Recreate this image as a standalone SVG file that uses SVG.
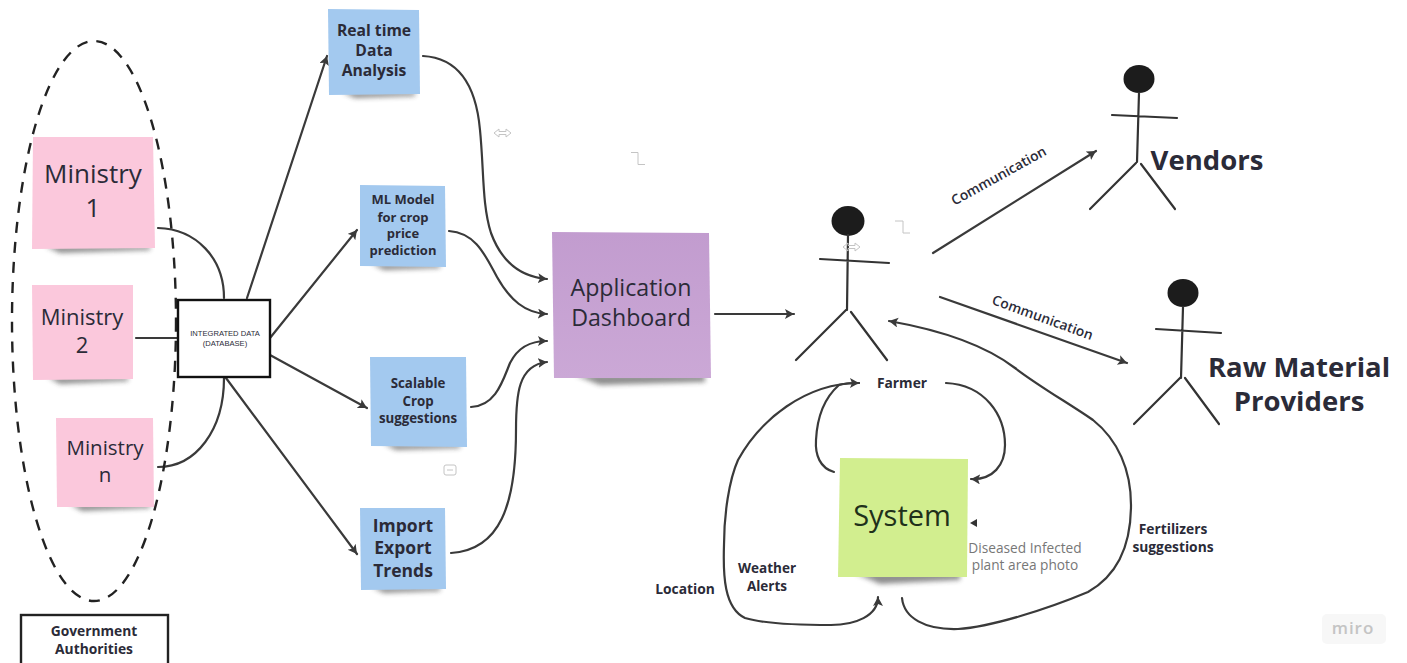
<svg xmlns="http://www.w3.org/2000/svg" width="1407" height="663" viewBox="0 0 1407 663">
<style>
text{font-family:"Open Sans","Noto Sans","Liberation Sans",sans-serif;fill:#2b2b38;text-anchor:middle}
.b{font-weight:700}
.c{fill:none;stroke:#3a3a3a;stroke-width:2.2;stroke-linecap:round;marker-end:url(#a)}
.n{fill:none;stroke:#3a3a3a;stroke-width:2.2;stroke-linecap:round}
.s{fill:none;stroke:#333;stroke-width:2.2;stroke-linecap:round}
.h{fill:#1c1c1c}
.sh{fill:#333;opacity:.55;filter:url(#blur)}
.i{fill:none;stroke:#c4c4c4;stroke-width:1}
.pink{fill:#fbc8dc}.blue{fill:#a3c9ef}
</style>
<defs>
<filter id="blur" x="-20%" y="-200%" width="140%" height="500%"><feGaussianBlur stdDeviation="2.5"/></filter>
<linearGradient id="pg" x1="0" y1="0" x2="0" y2="1"><stop offset="0" stop-color="#c29ccf"/><stop offset="1" stop-color="#cba8d6"/></linearGradient>
<marker id="a" markerUnits="userSpaceOnUse" markerWidth="12" markerHeight="12" refX="9" refY="5" orient="auto"><path d="M0 0L9 5L0 10L2 5Z" fill="#3a3a3a"/></marker>
</defs>
<rect width="1407" height="663" fill="#fff"/>

<g id="connectors">
<path class="n" d="M158 228C196 229 224 258 224 298"/>
<path class="n" d="M136 338H178"/>
<path class="n" d="M158 467C196 467 224 430 224 378"/>
<path class="c" d="M247 298L327 56"/>
<path class="c" d="M270 338L357 230"/>
<path class="c" d="M270 355L367 408"/>
<path class="c" d="M226 378L357 554"/>
<path class="c" d="M423 56C458 58 476 85 480 130C484 170 482 205 491 233C502 263 522 277 547 279"/>
<path class="c" d="M449 231C476 233 485 255 497 277C510 300 525 313 547 314"/>
<path class="c" d="M471 407C496 406 503 380 510 363C518 347 530 341 547 341"/>
<path class="c" d="M451 553C500 550 516 505 516 430C516 395 518 365 547 362"/>
<path class="c" d="M715 314H794"/>
<path class="c" d="M933 253L1096 151"/>
<path class="c" d="M940 297L1127 363"/>
<path class="c" d="M902 598C904 618 925 630 958 629C990 627 1045 610 1088 592C1118 575 1131 545 1131 505C1131 470 1118 440 1093 420C1070 404 1040 387 1015 368C985 345 940 330 889 321"/>
<path class="c" d="M834 472C820 468 815 455 816 440C817 420 822 400 839 385C845 383 852 383 859 383"/>
<path class="c" d="M859 383C805 383 760 420 738 460C729 480 724 515 724 545C723 575 724 608 745 618C765 624 800 625 831 625C855 625 878 616 878 597"/>
<path class="c" d="M946 383C985 385 1005 415 1005 445C1005 465 993 480 971 479"/>
<path d="M977 519L970 523L977 527Z" fill="#333"/>
</g>

<g id="authorities-ellipse"><ellipse cx="94" cy="321" rx="82" ry="280" fill="none" stroke="#222" stroke-width="2.4" stroke-dasharray="11 9"/></g>

<g id="ministry-1"><path class="sh" d="M45 246H150V250L60 253Z"/><path class="pink" d="M33 137L153 137L155 248L32 249Z"/>
<text x="93" y="183" font-size="26">Ministry</text><text x="93" y="217" font-size="26">1</text></g>
<g id="ministry-2"><path class="sh" d="M48 377H128V381L60 384Z"/><path class="pink" d="M32 285H133V379L33 380Z"/>
<text x="82" y="325" font-size="22">Ministry</text><text x="82" y="353" font-size="22">2</text></g>
<g id="ministry-n"><path class="sh" d="M70 504H150V508L82 511Z"/><path class="pink" d="M56 418H153L154 507H57Z"/>
<text x="105" y="455" font-size="20.5">Ministry</text><text x="105" y="482" font-size="20.5">n</text></g>

<g id="database"><rect x="178" y="300" width="92" height="77" fill="#fff" stroke="#111" stroke-width="2.4"/>
<text x="225" y="336" font-size="7.6" style="font-family:'Liberation Sans',sans-serif">INTEGRATED DATA</text><text x="225" y="346" font-size="7.6" style="font-family:'Liberation Sans',sans-serif">(DATABASE)</text></g>

<g id="government"><rect x="21" y="615" width="147" height="60" fill="#fff" stroke="#222" stroke-width="2.4"/>
<text x="94" y="636" font-size="13.8" class="b">Government</text><text x="94" y="654" font-size="13.8" class="b">Authorities</text></g>

<g id="real-time"><path class="sh" d="M342 92H415V96L355 98Z"/><path class="blue" d="M328 9L419 10L420 94L329 95Z"/>
<text x="374" y="36" font-size="15.7" class="b">Real time</text><text x="374" y="56" font-size="15.7" class="b">Data</text><text x="374" y="76" font-size="15.7" class="b">Analysis</text></g>
<g id="ml-model"><path class="sh" d="M372 264H440V268L384 270Z"/><path class="blue" d="M360 185L445 186L446 267L360 266Z"/>
<text x="403" y="204" font-size="13" class="b">ML Model</text><text x="403" y="222" font-size="13" class="b">for crop</text><text x="403" y="238" font-size="13" class="b">price</text><text x="403" y="255" font-size="13" class="b">prediction</text></g>
<g id="scalable"><path class="sh" d="M384 444H460V448L396 450Z"/><path class="blue" d="M370 357H466L467 447L371 446Z"/>
<text x="418" y="388" font-size="13.3" class="b">Scalable</text><text x="418" y="406" font-size="13.3" class="b">Crop</text><text x="418" y="423" font-size="13.3" class="b">suggestions</text></g>
<g id="import-export"><path class="sh" d="M372 587H440V591L384 593Z"/><path class="blue" d="M360 508H445L446 589L361 590Z"/>
<text x="403" y="532" font-size="17.5" class="b">Import</text><text x="403" y="554" font-size="17.5" class="b">Export</text><text x="403" y="577" font-size="17.5" class="b">Trends</text></g>

<g id="dashboard"><path class="sh" d="M575 375H705V382L600 385Z"/><path fill="url(#pg)" d="M552 232L709 233L711 378L554 378Z"/>
<text x="631" y="296" font-size="23.2">Application</text><text x="631" y="326" font-size="23.2">Dashboard</text></g>

<g id="system"><path class="sh" d="M855 573H960V580L880 584Z"/><path fill="#d2ee8f" d="M840 458L968 459L967 577L838 577Z"/>
<text x="902" y="526" font-size="29" style="fill:#20301a">System</text></g>

<g id="farmer"><ellipse class="h" cx="848" cy="221" rx="16.5" ry="15"/>
<path class="s" d="M820 259L889 263M848 235L847 310M846 310L796 360M851 312L887 360"/>
<text x="902" y="388" font-size="13.8" class="b">Farmer</text></g>

<g id="vendors"><ellipse class="h" cx="1139" cy="79" rx="15.5" ry="14"/>
<path class="s" d="M1112 115L1177 118M1139 93L1137 162M1136 163L1090 209M1141 164L1175 209"/>
<text x="1207" y="170" font-size="27.500" class="b">Vendors</text></g>

<g id="raw-material"><ellipse class="h" cx="1183" cy="293" rx="15.5" ry="14"/>
<path class="s" d="M1156 329L1221 333M1183 307L1181 378M1181 377L1134 424M1185 378L1219 424"/>
<text x="1299" y="377" font-size="27.500" class="b">Raw Material</text><text x="1299" y="411" font-size="27.500" class="b">Providers</text></g>

<g id="labels">
<text transform="translate(1001 180) rotate(-29)" font-size="13.800" font-weight="600">Communication</text>
<text transform="translate(1041 322) rotate(20)" font-size="13.800" font-weight="600">Communication</text>
<text x="685" y="594" font-size="13.800" class="b">Location</text>
<text x="767" y="573" font-size="13.500" class="b">Weather</text><text x="767" y="591" font-size="13.500" class="b">Alerts</text>
<text x="1173" y="534" font-size="13.800" class="b">Fertilizers</text><text x="1173" y="552" font-size="13.800" class="b">suggestions</text>
<text x="1025" y="553" font-size="13.700" style="fill:#777">Diseased Infected</text><text x="1025" y="570" font-size="13.700" style="fill:#777">plant area photo</text>
</g>

<g id="ui-marks">
<path class="i" d="M494 133L499 129V131.500H506V129L511 133L506 137V134.500H499V137Z"/>
<path class="i" d="M631 152.500H638V164.500H645"/>
<path class="i" d="M843 247L848 243V245.500H855V243L860 247L855 251V248.500H848V251Z"/>
<path class="i" d="M895 221H903V233H910"/>
<rect class="i" x="444" y="465" width="12" height="10" rx="2"/><path class="i" d="M447 470H453"/>
<rect x="1322" y="614" width="64" height="30" rx="5" fill="#f7f7f7"/>
<text x="1353" y="634" font-size="17" font-weight="600" letter-spacing="1" style="fill:#c4c4c4">miro</text>
</g>
</svg>
